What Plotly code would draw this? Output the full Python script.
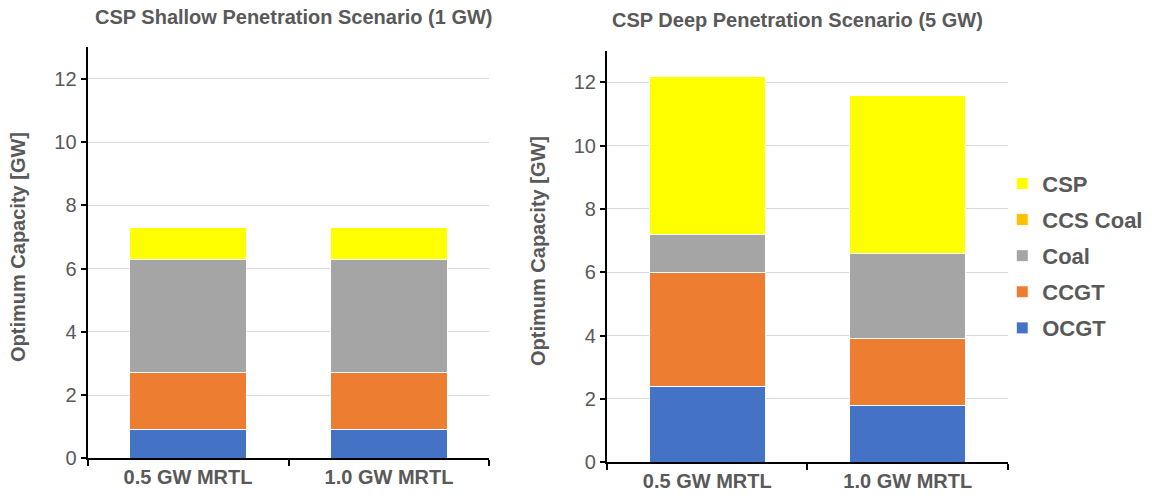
import plotly.graph_objects as go

# Optimum installed capacity [GW] per technology, for each MRTL case
categories = ["0.5 GW MRTL", "1.0 GW MRTL"]
technologies = ["OCGT", "CCGT", "Coal", "CCS Coal", "CSP"]
colors = {
    "OCGT": "#4472C4",
    "CCGT": "#ED7D31",
    "Coal": "#A5A5A5",
    "CCS Coal": "#FFC000",
    "CSP": "#FFFF00",
}

shallow_ocgt = [0.9, 0.9]
shallow_ccgt = [1.8, 1.8]
shallow_coal = [3.6, 3.6]
shallow_ccs_coal = [0.0, 0.0]
shallow_csp = [1.0, 1.0]

deep_ocgt = [2.4, 1.8]
deep_ccgt = [3.6, 2.1]
deep_coal = [1.2, 2.7]
deep_ccs_coal = [0.0, 0.0]
deep_csp = [5.0, 5.0]

shallow = dict(zip(technologies, [shallow_ocgt, shallow_ccgt, shallow_coal,
                                  shallow_ccs_coal, shallow_csp]))
deep = dict(zip(technologies, [deep_ocgt, deep_ccgt, deep_coal,
                               deep_ccs_coal, deep_csp]))

FONT = "Liberation Sans, Arial, Helvetica, sans-serif"
GREY = "#595959"

fig = go.Figure()
for tech in technologies:
    fig.add_trace(go.Bar(
        x=categories, y=shallow[tech], name=tech, xaxis="x", yaxis="y",
        marker=dict(color=colors[tech], line=dict(color="white", width=1)),
        legendgroup=tech, showlegend=False,
    ))
# legend lists the top of the stack first
for rank, tech in enumerate(technologies):
    fig.add_trace(go.Bar(
        x=categories, y=deep[tech], name=tech, xaxis="x2", yaxis="y2",
        marker=dict(color=colors[tech], line=dict(color="white", width=1)),
        legendgroup=tech, showlegend=True,
        legendrank=1000 - rank,
    ))

xaxis_style = dict(
    type="category", showline=True, linecolor="black", linewidth=2,
    ticks="outside", tickson="boundaries", ticklen=6, tickwidth=2,
    tickcolor="black", showgrid=False, automargin=False,
    tickfont=dict(family=FONT, size=20, color=GREY, weight="bold"),
)
yaxis_style = dict(
    range=[0, 13], dtick=2, showline=True, linecolor="black", linewidth=2,
    ticks="outside", ticklen=5, tickwidth=2, tickcolor="black",
    showgrid=True, gridcolor="#d9d9d9", gridwidth=1, zeroline=False,
    automargin=False,
    tickfont=dict(family=FONT, size=20, color=GREY),
)

fig.update_layout(
    width=1152, height=496,
    margin=dict(l=0, r=0, t=0, b=0, autoexpand=False),
    paper_bgcolor="white", plot_bgcolor="white",
    barmode="stack", bargap=0.42,
    xaxis=dict(domain=[0.0760, 0.4249], anchor="y", **xaxis_style),
    yaxis=dict(domain=[0.0760, 0.9050], anchor="x", **yaxis_style),
    xaxis2=dict(domain=[0.5269, 0.8750], anchor="y2", **xaxis_style),
    yaxis2=dict(domain=[0.0681, 0.8978], anchor="x2", **yaxis_style),
    legend=dict(
        x=0.870, y=0.672, xanchor="left", yanchor="top",
        traceorder="grouped", tracegroupgap=4.5,
        font=dict(family=FONT, size=22, color=GREY, weight="bold"),
        bgcolor="rgba(0,0,0,0)",
    ),
    showlegend=True,
)

title_font = dict(family=FONT, size=20, color=GREY, weight="bold")
axis_title_font = dict(family=FONT, size=20, color=GREY, weight="bold")
annotations = [
    dict(text="CSP Shallow Penetration Scenario (1 GW)", x=294 / 1152,
         y=1 - 17 / 496, xref="paper", yref="paper", showarrow=False,
         xanchor="center", yanchor="middle", font=title_font),
    dict(text="CSP Deep Penetration Scenario (5 GW)", x=797 / 1152,
         y=1 - 20 / 496, xref="paper", yref="paper", showarrow=False,
         xanchor="center", yanchor="middle", font=title_font),
    dict(text="Optimum Capacity [GW]", x=18 / 1152, y=1 - 247 / 496,
         xref="paper", yref="paper", showarrow=False, textangle=-90,
         xanchor="center", yanchor="middle", font=axis_title_font),
    dict(text="Optimum Capacity [GW]", x=538 / 1152, y=1 - 251 / 496,
         xref="paper", yref="paper", showarrow=False, textangle=-90,
         xanchor="center", yanchor="middle", font=axis_title_font),
]
fig.update_layout(annotations=annotations)

fig.write_html("out.html")
